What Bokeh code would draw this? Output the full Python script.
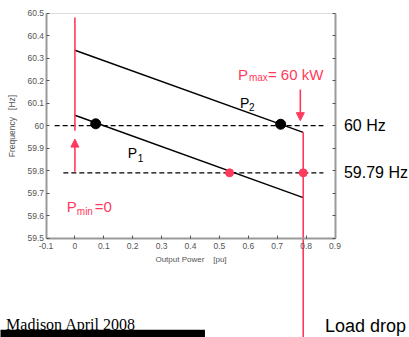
from bokeh.plotting import figure
from bokeh.models import (LinearAxis, FixedTicker, CustomJSTickFormatter, Range1d,
                          Arrow, NormalHead)
from bokeh.core.properties import value
from bokeh.embed import file_html
from bokeh.resources import INLINE

# ---- data ----
x_ticks = [-0.1, 0.0, 0.1, 0.2, 0.3, 0.4, 0.5, 0.6, 0.7, 0.8, 0.9]
y_ticks = [59.5, 59.6, 59.7, 59.8, 59.9, 60.0, 60.1, 60.2, 60.3, 60.4, 60.5]

p2_x = [0.0, 0.79]
p2_y = [60.335, 59.97]
p1_x = [0.0, 0.79]
p1_y = [60.046, 59.68]

f60_x = [-0.07, 0.86]
f60_y = [60.0, 60.0]
f5979_x = [-0.04, 0.86]
f5979_y = [59.79, 59.79]

black_dot_x = [0.072, 0.712]
black_dot_y = [60.008, 60.006]
red_dot_x = [0.535, 0.79]
red_dot_y = [59.79, 59.79]

pmin_line_x = [0.0, 0.0]
pmin_line_y = [60.48, 59.977]
drop_line_x = [0.79, 0.79]
drop_line_y = [59.97, 58.9]

up_arrow = dict(x=0.0, y_start=59.795, y_end=59.94)
down_arrow = dict(x=0.78, y_start=60.16, y_end=60.022)

bar_x = [-0.3, 0.45]
bar_y = [59.093, 58.9]

RED = "#ff3a5c"

W, H = 409, 337
XS = 289.0   # px per unit x
YS = 225.0   # px per unit y
xs = -0.1 - 45.5 / XS
ys_top = 60.5 + 12.6 / YS

p = figure(width=W, height=H, output_backend="svg", toolbar_location=None,
           x_range=Range1d(xs, xs + W / XS), y_range=Range1d(ys_top - H / YS, ys_top),
           x_axis_location=None, y_axis_location=None, min_border=0)
p.outline_line_color = None
p.xgrid.visible = False
p.ygrid.visible = False
p.background_fill_color = "white"

fmt = CustomJSTickFormatter(code="return tick.toFixed(1).replace(/\\.0$/, '')")
blank = CustomJSTickFormatter(code="return ''")

def style(ax):
    ax.axis_line_color = "#9a9a9a"
    ax.axis_line_width = 2
    ax.major_tick_in = 3
    ax.major_tick_out = 0
    ax.minor_tick_line_color = None
    ax.major_tick_line_color = "#555555"
    ax.major_label_text_font = "Liberation Sans"
    ax.major_label_text_font_size = "8.5px"
    ax.major_label_text_color = "#555555"
    ax.axis_label_text_font = "Liberation Sans"
    ax.axis_label_text_font_size = "8.5px"
    ax.axis_label_text_font_style = "normal"
    ax.axis_label_text_color = "#555555"

left = LinearAxis(fixed_location=-0.1, bounds=(59.5, 60.5), ticker=FixedTicker(ticks=y_ticks),
                  formatter=fmt, axis_label="Frequency\u00a0\u00a0\u00a0[Hz]")
style(left)
left.major_label_standoff = 2
left.axis_label_standoff = 8
p.add_layout(left, "left")

bottom = LinearAxis(fixed_location=59.5, bounds=(-0.1, 0.9), ticker=FixedTicker(ticks=x_ticks),
                    formatter=fmt, axis_label="Output Power\u00a0\u00a0\u00a0\u00a0[pu]")
style(bottom)
bottom.major_label_standoff = 5
bottom.axis_label_standoff = 2
bottom.axis_label_text_font_size = "8px"
p.add_layout(bottom, "below")

right = LinearAxis(fixed_location=0.9, bounds=(59.5, 60.5), ticker=FixedTicker(ticks=y_ticks),
                   formatter=blank)
style(right)
p.add_layout(right, "right")

top = LinearAxis(fixed_location=60.5, bounds=(-0.1, 0.9), ticker=FixedTicker(ticks=x_ticks),
                 formatter=blank)
style(top)
top.axis_line_color = "#dddddd"
top.axis_line_width = 1
top.major_tick_line_color = None
p.add_layout(top, "above")

# dashed reference lines
p.line(f60_x, f60_y, line_color="black", line_width=1.3, line_dash="5 3")
p.line(f5979_x, f5979_y, line_color="black", line_width=1.3, line_dash="5 3")

# droop lines
p.line(p2_x, p2_y, line_color="black", line_width=1.4)
p.line(p1_x, p1_y, line_color="black", line_width=1.4)

# red verticals
p.line(pmin_line_x, pmin_line_y, line_color=RED, line_width=1.6)
p.line(drop_line_x, drop_line_y, line_color=RED, line_width=1.6)

# arrows
p.add_layout(Arrow(end=NormalHead(size=8, fill_color=RED, line_color=RED),
                   x_start=up_arrow["x"], y_start=up_arrow["y_start"],
                   x_end=up_arrow["x"], y_end=up_arrow["y_end"],
                   line_color=RED, line_width=1.6))
p.add_layout(Arrow(end=NormalHead(size=8, fill_color=RED, line_color=RED),
                   x_start=down_arrow["x"], y_start=down_arrow["y_start"],
                   x_end=down_arrow["x"], y_end=down_arrow["y_end"],
                   line_color=RED, line_width=1.6))

# dots
p.scatter(black_dot_x, black_dot_y, size=10, color="black")
p.scatter(red_dot_x, red_dot_y, size=8, color=RED)

# slide bar
p.quad(left=[bar_x[0]], right=[bar_x[1]], top=[bar_y[0]], bottom=[bar_y[1]],
       fill_color="black", line_color=None)

def txt(x, y, s, size, color="black", font="Liberation Sans", dx=0, dy=0,
        align="left", baseline="alphabetic"):
    p.text(x=[x], y=[y], text=[s], x_offset=dx, y_offset=dy,
           text_font=value(font), text_font_size=size, text_color=color,
           text_align=align, text_baseline=baseline)

# P2
txt(0.571, 60.102, "P", "14px")
txt(0.571, 60.102, "2", "10px", dx=9, dy=4)
# P1
txt(0.183, 59.88, "P", "14px")
txt(0.183, 59.88, "1", "10px", dx=10, dy=5)
# Pmin=0
txt(-0.028, 59.64, "P", "15px", color=RED)
txt(-0.028, 59.64, "min", "10px", color=RED, dx=10, dy=5)
txt(-0.028, 59.64, "=0", "15px", color=RED, dx=28)
# Pmax = 60 kW
txt(0.564, 60.227, "P", "15px", color=RED)
txt(0.564, 60.227, "max", "10px", color=RED, dx=11, dy=3)
txt(0.564, 60.227, "= 60 kW", "15px", color=RED, dx=30)
# frequency labels
txt(0.931, 60.0, "60 Hz", "16px", baseline="middle")
txt(0.931, 59.79, "59.79 Hz", "16px", baseline="middle")
# slide texts
txt(0.865, 59.11, "Load drop", "18px")
txt(0.211, 59.115, "Madison April 2008", "16px", font="Liberation Serif", align="right")

open("out.html", "w").write(file_html(p, INLINE))
